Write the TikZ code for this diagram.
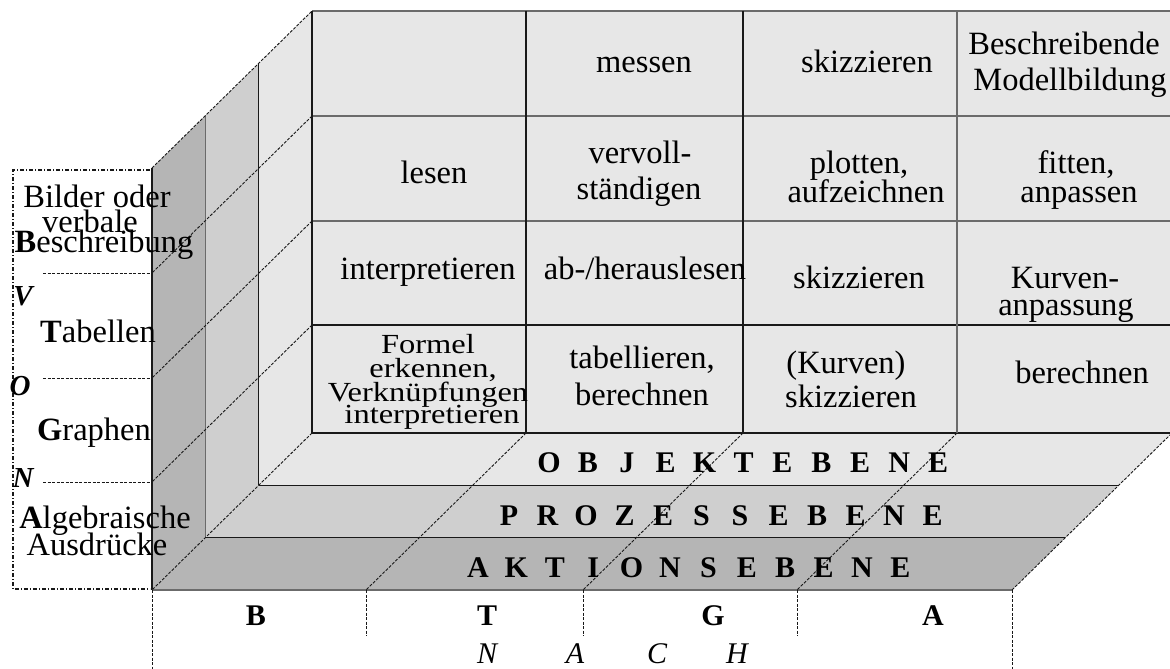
\documentclass[tikz,border=0pt]{standalone}
\usepackage{fontspec}
\setmainfont{Liberation Serif}
\definecolor{wallL}{gray}{0.905}
\definecolor{wallM}{gray}{0.81}
\definecolor{wallD}{gray}{0.71}
\definecolor{lineD}{gray}{0.1}
\definecolor{lineG}{gray}{0.42}
\tikzset{
  txt/.style={font=\fontsize{32.5}{35}\selectfont, inner sep=0pt, anchor=base},
  lev/.style={font=\fontsize{30}{30}\selectfont\bfseries, inner sep=0pt, anchor=base},
  vl/.style={font=\fontsize{29}{30}\selectfont\bfseries\itshape, inner sep=0pt, anchor=base},
  bl/.style={font=\fontsize{30}{30}\selectfont\bfseries, inner sep=0pt, anchor=base},
  il/.style={font=\fontsize{30}{30}\selectfont\itshape, inner sep=0pt, anchor=base},
  edgeD/.style={draw=lineD, line width=1.6pt},
  edgeG/.style={draw=lineG, line width=1.4pt},
  dsh/.style={draw=lineD, line width=0.9pt, dash pattern=on 3pt off 1.5pt},
  dbox/.style={draw=lineD, line width=1.2pt, dash pattern=on 4pt off 2pt on 1pt off 2pt},
}
\begin{document}
\begin{tikzpicture}[x=1pt,y=-1pt]
\useasboundingbox (0,0) rectangle (1170,669);
% corner coordinates
\coordinate (b0t) at (312,11);
\coordinate (b1t) at (258.67,63.33);
\coordinate (b2t) at (205.33,115.67);
\coordinate (b3t) at (152,168);
\coordinate (b0b) at (312,433);
\coordinate (b1b) at (258.67,485.33);
\coordinate (b2b) at (205.33,537.67);
\coordinate (b3b) at (152,590);
\coordinate (r0) at (1172,433);
\coordinate (r1) at (1118.67,485.33);
\coordinate (r2) at (1065.33,537.67);
\coordinate (r3) at (1012,590);
\coordinate (rt) at (1172,11);
% dashed frame of the left labels
\draw[dbox] (150,170) -- (13,170) -- (13,589) -- (150,589);
\foreach \y/\n in {273/a,378/b,482/c} \draw[dsh] (43,\y) -- (152,\y);
% fills
\fill[wallL] (b0t) rectangle (r0);
\fill[wallL] (b1t) -- (b0t) -- (b0b) -- (b1b) -- cycle;
\fill[wallM] (b2t) -- (b1t) -- (b1b) -- (b2b) -- cycle;
\fill[wallD] (b3t) -- (b2t) -- (b2b) -- (b3b) -- cycle;
\fill[wallL] (b0b) -- (r0) -- (r1) -- (b1b) -- cycle;
\fill[wallM] (b1b) -- (r1) -- (r2) -- (b2b) -- cycle;
\fill[wallD] (b2b) -- (r2) -- (r3) -- (b3b) -- cycle;
% back wall grid
\draw[edgeG] (b0t) -- (rt);
\draw[edgeG] (312,116) -- (1172,116);
\draw[edgeG] (312,221) -- (1172,221);
\draw[edgeD] (312,325) -- (1172,325);
\draw[edgeD] (b0b) -- (r0);
\draw[edgeD] (b0t) -- (b0b);
\draw[edgeD] (526,11) -- (526,433);
\draw[edgeD] (743,11) -- (743,433);
\draw[edgeG] (957,11) -- (957,433);
% side walls and floors
\draw[edgeD] (b1t) -- (b1b);
\draw[edgeG] (b2t) -- (b2b);
\draw[edgeD] (b3t) -- (b3b);
\draw[edgeD] (b1b) -- (r1);
\draw[edgeD] (b2b) -- (r2);
\draw[edgeG] (b3b) -- (r3);
% dashed depth edges
\draw[dsh] (b3t) -- (b0t);
\draw[dsh] (r3) -- (r0);
\draw[dsh] (b0b) -- (b3b);
\foreach \y in {116,221,325} \draw[dsh] (312,\y) -- (152,\y+157);
\foreach \x in {526,743,957} \draw[dsh] (\x,433) -- (\x-160,590);
\draw[dsh] (b3b) -- (152,669);
\draw[dsh] (r3) -- (1012,669);
\foreach \x in {366,583,797} \draw[dsh] (\x,590) -- (\x,636);
% back wall texts
\node[txt] (c12) at (644,73) {messen};
\node[txt] (c13) at (867,73) {skizzieren};
\node[txt] (c14a) at (1064,55) {Beschreibende};
\node[txt] (c14b) at (1070,90) {Modellbildung};
\node[txt] (c21) at (434,183) {lesen};
\node[txt] (c22a) at (640,163) {vervoll-};
\node[txt] (c22b) at (639,199) {ständigen};
\node[txt] (c23a) at (859,173) {plotten,};
\node[txt] (c23b) at (866,202) {aufzeichnen};
\node[txt] (c24a) at (1076,173) {fitten,};
\node[txt] (c24b) at (1079,202) {anpassen};
\node[txt] (c31) at (428,279) {interpretieren};
\node[txt] (c32) at (645,279) {ab-/herauslesen};
\node[txt] (c33) at (859,288) {skizzieren};
\node[txt] (c34a) at (1065,288) {Kurven-};
\node[txt] (c34b) at (1066,315) {anpassung};
\node[txt] (c41a) at (428,353) {\scalebox{1}[0.85]{Formel}};
\node[txt] (c41b) at (433,377) {\scalebox{1}[0.85]{erkennen,}};
\node[txt] (c41c) at (428,401) {\scalebox{1}[0.85]{Verknüpfungen}};
\node[txt] (c41d) at (432,423) {\scalebox{1}[0.85]{interpretieren}};
\node[txt] (c42a) at (642,368) {tabellieren,};
\node[txt] (c42b) at (642,405) {berechnen};
\node[txt] (c43a) at (846,373) {(Kurven)};
\node[txt] (c43b) at (851,407) {skizzieren};
\node[txt] (c44) at (1082,383) {berechnen};
% level labels
\foreach \l [count=\i from 0] in {O,B,J,E,K,T,E,B,E,N,E}
  \node[lev] (ob\i) at ({549+38.9*\i},472) {\l};
\foreach \l [count=\i from 0] in {P,R,O,Z,E,S,S,E,B,E,N,E}
  \node[lev] (pr\i) at ({509+38.5*\i},525) {\l};
\foreach \l [count=\i from 0] in {A,K,T,I,O,N,S,E,B,E,N,E}
  \node[lev] (ak\i) at ({478+38.4*\i},577) {\l};
% left labels
\node[txt] (l1) at (97,207) {Bilder oder};
\node[txt] (l2) at (90,232) {verbale};
\node[txt] (l3) at (104,252) {\textbf{B}eschreibung};
\node[vl] (vV) at (23,305) {V};
\node[txt] (l4) at (98,342) {\textbf{T}abellen};
\node[vl] (vO) at (20,395) {O};
\node[txt] (l5) at (94,440) {\textbf{G}raphen};
\node[vl] (vN) at (23,487) {N};
\node[txt] (l6) at (105,528) {\textbf{A}lgebraische};
\node[txt] (l7) at (97,555) {Ausdrücke};
% bottom labels
\node[bl] (bB) at (256,625) {B};
\node[bl] (bT) at (487,625) {T};
\node[bl] (bG) at (713,625) {G};
\node[bl] (bA) at (933,625) {A};
\node[il] (nN) at (487,663) {N};
\node[il] (nA) at (575,663) {A};
\node[il] (nC) at (657,663) {C};
\node[il] (nH) at (737,663) {H};
\end{tikzpicture}
\end{document}
